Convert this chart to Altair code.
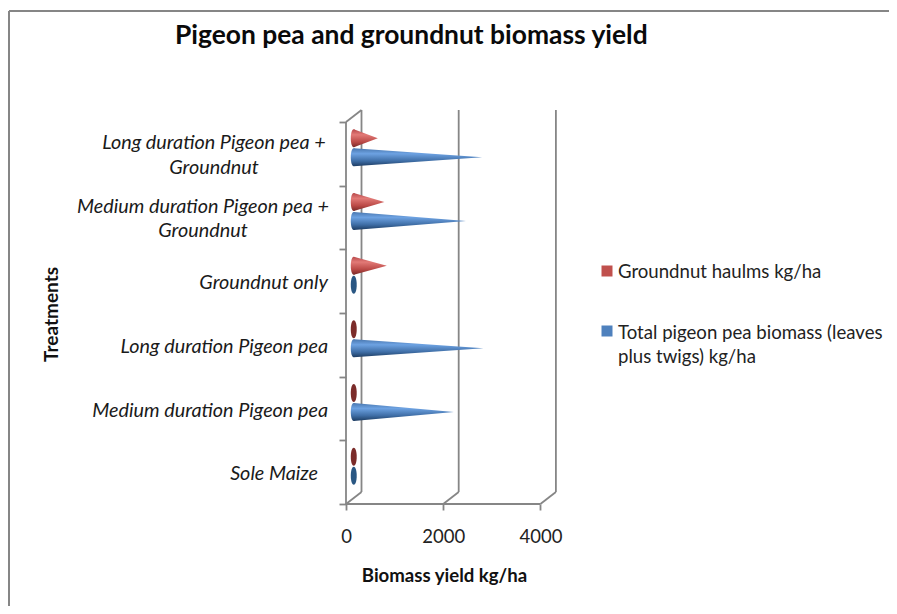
import altair as alt
import pandas as pd

treatments = ["Sole Maize", "Medium duration Pigeon pea", "Long duration Pigeon pea",
              "Groundnut only", "Medium duration Pigeon pea + Groundnut", "Long duration Pigeon pea  + Groundnut"]
haulms = [0, 0, 0, 680, 630, 495]
pigeon = [0, 2060, 2670, 0, 2310, 2640]
x_ticks = [0, 2000, 4000]
cat_ticks = [0, 1, 2, 3, 4, 5, 6]
legend_names = ["Groundnut haulms kg/ha", "Total pigeon pea biomass (leaves", "plus twigs)  kg/ha"]

W, H = 210, 394
PX_X = 194.4 / 4000
PX_Y = 382 / 6
DEPTH_X = 15.5 / PX_X
DEPTH_Y = 12 / PX_Y
HALF = 9 / PX_Y
SHIFT = 9.5 / PX_Y
GREY = "#868686"
LW = 1.8
FONT = "Lato"
xs = alt.Scale(domain=[0, W / PX_X], nice=False, zero=False)
ys = alt.Scale(domain=[0, H / PX_Y], nice=False, zero=False)

XAX = alt.Axis(
    values=x_ticks, format="d", title="Biomass yield kg/ha", grid=False, domain=False, tickColor=GREY, tickWidth=LW,
    tickSize=6, labelFont=FONT, labelFontSize=18.5, labelColor="#222222", labelPadding=17, labelFlush=False,
    titleFont=FONT, titleFontSize=18.6, titleFontWeight="bold", titleColor="#111111",
    titleX=98, titleY=71, titleAnchor="middle", titleAlign="center", titleBaseline="middle")
YAX = alt.Axis(
    values=cat_ticks, labels=False, title="Treatments", grid=False, domain=False, tickColor=GREY, tickWidth=LW,
    tickSize=7, titleFont=FONT, titleFontSize=19, titleFontWeight="bold", titleColor="#111111",
    titleX=-295, titleY=204, titleAnchor="middle", titleAlign="center", titleBaseline="middle")


def X(f):
    return alt.X(f, scale=xs, axis=XAX)


def Y(f):
    return alt.Y(f, scale=ys, axis=YAX)


def grad(a, b, c, d):
    return alt.LinearGradient(gradient="linear", x1=0, x2=0, y1=0, y2=1, stops=[
        alt.GradientStop(offset=0, color=a), alt.GradientStop(offset=0.3, color=b),
        alt.GradientStop(offset=0.7, color=c), alt.GradientStop(offset=1, color=d)])


BLUE = grad("#4a78b0", "#6da2e2", "#3f6ea6", "#1d3c62")
RED = grad("#b8494a", "#e27a77", "#bb4a47", "#7a2a28")

rows = []
for i, t in enumerate(treatments):
    mid = i + 0.5 + DEPTH_Y / 2
    for name, v, c in (("haulms", haulms[i], mid + SHIFT), ("pigeon", pigeon[i], mid - SHIFT)):
        rows.append(dict(t=t, s=name, v=v, c=c))
base = pd.DataFrame(rows)
base["x"] = DEPTH_X / 2
cones = []
for r in rows:
    if r["v"] > 0:
        cones.append(dict(id=r["t"] + r["s"], s=r["s"], x=DEPTH_X / 2, y=r["c"] - HALF, y2=r["c"] + HALF))
        cones.append(dict(id=r["t"] + r["s"], s=r["s"], x=DEPTH_X / 2 + r["v"], y=r["c"], y2=r["c"]))
cones = pd.DataFrame(cones)


def cone_layer(name, fill):
    return alt.Chart(cones[cones.s == name]).mark_area(orient="vertical", fill=fill, opacity=1).encode(
        x=X("x:Q"), y=Y("y:Q"), y2="y2:Q", detail="id:N")


ELL = "M0,-1 C0.44,-1 0.44,1 0,1 C-0.44,1 -0.44,-1 0,-1 Z"


def ell_layer(df, fill):
    return alt.Chart(df).mark_point(shape=ELL, size=324, filled=True, fill=fill, opacity=1, strokeWidth=0).encode(
        x=X("x:Q"), y=Y("c:Q"))


# frame of the 3-D box
back = pd.DataFrame({"x": [v * 1.0 + DEPTH_X for v in x_ticks], "a": [DEPTH_Y] * 3, "b": [6 + DEPTH_Y] * 3})
verticals = alt.Chart(back).mark_rule(color=GREY, strokeWidth=LW).encode(x=X("x:Q"), y=Y("a:Q"), y2="b:Q")
floor_d = pd.DataFrame({"x": [float(v) for v in x_ticks], "x2": [v + DEPTH_X for v in x_ticks],
                        "a": [0.0] * 3, "b": [DEPTH_Y] * 3})
diagonals = alt.Chart(floor_d).mark_rule(color=GREY, strokeWidth=LW).encode(
    x=X("x:Q"), x2="x2:Q", y=Y("a:Q"), y2="b:Q")
top_d = pd.DataFrame({"x": [0.0], "x2": [DEPTH_X], "a": [6.0], "b": [6 + DEPTH_Y]})
top_diag = alt.Chart(top_d).mark_rule(color=GREY, strokeWidth=LW).encode(
    x=X("x:Q"), x2="x2:Q", y=Y("a:Q"), y2="b:Q")
front_v = alt.Chart(pd.DataFrame({"x": [0.0], "a": [0.0], "b": [6.0]})).mark_rule(color=GREY, strokeWidth=LW).encode(
    x=X("x:Q"), y=Y("a:Q"), y2="b:Q")
front_h = alt.Chart(pd.DataFrame({"x": [0.0], "x2": [float(x_ticks[-1])], "a": [0.0]})).mark_rule(
    color=GREY, strokeWidth=LW).encode(x=X("x:Q"), x2="x2:Q", y=Y("a:Q"))

# category labels
lab_kw = dict(font=FONT, fontSize=19.8, fontStyle="italic", color="#1a1a1a")
single = pd.DataFrame({"t": [treatments[1], treatments[2], treatments[3]], "c": [1.46, 2.46, 3.475]})
lab_single = alt.Chart(single).mark_text(align="right", baseline="middle", **lab_kw).encode(
    x=alt.value(-18), y=Y("c:Q"), text="t:N")
sole = alt.Chart(pd.DataFrame({"t": [treatments[0]], "c": [0.475]})).mark_text(
    align="right", baseline="middle", **lab_kw).encode(x=alt.value(-28), y=Y("c:Q"), text="t:N")


def wrapped(idx, first, second, xpix):
    d = pd.DataFrame({"t": [first, second], "c": [idx + 0.665, idx + 0.285]})
    return alt.Chart(d).mark_text(align="center", baseline="middle", **lab_kw).encode(
        x=alt.value(xpix), y=Y("c:Q"), text="t:N")


lab_w1 = wrapped(4, "Medium duration Pigeon pea +", "Groundnut", -143)
lab_w2 = wrapped(5, "Long duration Pigeon pea  +", "Groundnut", -132)

title = alt.Chart(pd.DataFrame({"t": ["Pigeon pea and groundnut biomass yield"]})).mark_text(
    align="left", baseline="middle", font=FONT, fontSize=26.4, fontWeight="bold", color="#0a0a0a").encode(
    x=alt.value(-171), y=alt.value(-74), text="t:N")

# legend
leg_sq = pd.DataFrame({"col": ["#c0504d", "#4f81bd"], "yp": [161, 221]})
squares = alt.Chart(leg_sq).mark_square(size=121, opacity=1).encode(
    x=alt.value(261), y=alt.Y("yp:Q", scale=None), color=alt.Color("col:N", scale=None))
leg_tx = pd.DataFrame({"t": legend_names, "yp": [162, 223, 247]})
leg_text = alt.Chart(leg_tx).mark_text(align="left", baseline="middle", font=FONT, fontSize=18.6, color="#222222").encode(
    x=alt.value(272), y=alt.Y("yp:Q", scale=None), text="t:N")

# chart border
b1 = alt.Chart(pd.DataFrame({"a": [0]})).mark_rule(color=GREY, strokeWidth=2).encode(
    x=alt.value(-337), x2=alt.value(543), y=alt.value(-99))
b2 = alt.Chart(pd.DataFrame({"a": [0]})).mark_rule(color=GREY, strokeWidth=2).encode(
    x=alt.value(-337), y=alt.value(-99), y2=alt.value(496))

chart = alt.layer(
    b1, b2, verticals, diagonals, top_diag, front_v, front_h,
    ell_layer(base[(base.s == "haulms") & (base.v > 0)], RED),
    ell_layer(base[(base.s == "pigeon") & (base.v > 0)], BLUE),
    cone_layer("haulms", RED), cone_layer("pigeon", BLUE),
    ell_layer(base[(base.s == "haulms") & (base.v == 0)], "#7b2c2a"),
    ell_layer(base[(base.s == "pigeon") & (base.v == 0)], "#2a5783"),
    lab_single, sole, lab_w1, lab_w2, title, squares, leg_text,
).resolve_scale(x="shared", y="shared").properties(
    width=W, height=H,
    padding={"left": 338, "top": 102, "right": 333, "bottom": 102},
    autosize=alt.AutoSizeParams(type="none"),
    background="white",
).configure_view(stroke=None)

chart.save("out.html", embed_options={"renderer": "svg", "actions": False})
